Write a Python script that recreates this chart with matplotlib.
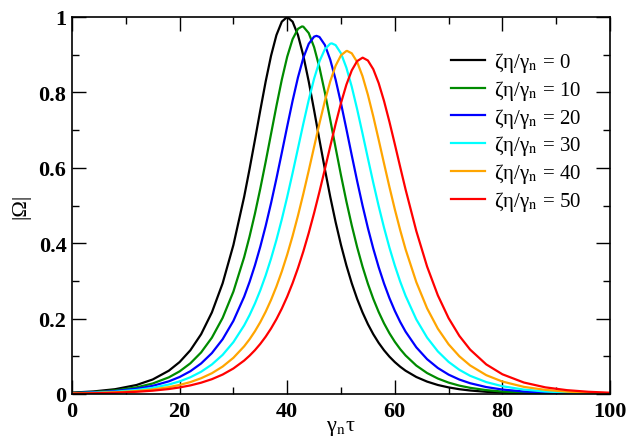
import numpy as np
import matplotlib
matplotlib.use("Agg")
import matplotlib.pyplot as plt
from matplotlib.ticker import MultipleLocator, FuncFormatter

plt.rcParams["font.family"] = ["Liberation Serif", "DejaVu Serif"]
plt.rcParams["mathtext.fontset"] = "stix"

# ── Data (gamma_n * tau vs |Omega|) ───────────────────────────────────────
X_GRID = [0, 4, 8, 12, 15, 18, 20, 22, 24, 26, 28, 30,
          32, 33, 34, 35, 36, 37, 38, 39, 40, 41, 42, 43, 44, 45, 46, 47,
          48, 49, 50, 51, 52, 53, 54, 55, 56, 57, 58, 59, 60, 61, 62,
          64, 66, 68, 70, 72, 74, 77, 80, 84, 88, 92, 96, 100]

OMEGA_0 = [0.0036, 0.0068, 0.0127, 0.0239, 0.0385, 0.0618, 0.0847, 0.1160, 0.1586, 0.2164, 0.2937, 0.3952,
           0.5232, 0.5965, 0.6737, 0.7527, 0.8290, 0.8973, 0.9521, 0.9877, 1.0000, 0.9877, 0.9521, 0.8973,
           0.8290, 0.7527, 0.6737, 0.5965, 0.5232, 0.4559, 0.3952, 0.3412, 0.2937, 0.2523, 0.2164, 0.1853,
           0.1586, 0.1357, 0.1160, 0.0991, 0.0847, 0.0724, 0.0618,
           0.0451, 0.0329, 0.0239, 0.0175, 0.0127, 0.0093, 0.0058, 0.0036, 0.0019, 0.0010, 0.0005, 0.0003, 0.0002]
OMEGA_10 = [0.0028, 0.0052, 0.0096, 0.0176, 0.0279, 0.0442, 0.0600, 0.0814, 0.1103, 0.1494, 0.2019, 0.2717,
            0.3629, 0.4176, 0.4783, 0.5449, 0.6161, 0.6902, 0.7641, 0.8339, 0.8946, 0.9411, 0.9686, 0.9743,
            0.9574, 0.9200, 0.8658, 0.7998, 0.7274, 0.6530, 0.5800, 0.5109, 0.4472, 0.3895, 0.3379, 0.2924,
            0.2524, 0.2176, 0.1873, 0.1612, 0.1386, 0.1191, 0.1023,
            0.0754, 0.0556, 0.0410, 0.0302, 0.0222, 0.0164, 0.0103, 0.0065, 0.0035, 0.0019, 0.0010, 0.0006, 0.0003]
OMEGA_20 = [0.0024, 0.0043, 0.0077, 0.0139, 0.0216, 0.0336, 0.0451, 0.0604, 0.0810, 0.1085, 0.1453, 0.1940,
            0.2581, 0.2971, 0.3412, 0.3908, 0.4459, 0.5064, 0.5716, 0.6401, 0.7098, 0.7776, 0.8397, 0.8916,
            0.9288, 0.9479, 0.9469, 0.9259, 0.8869, 0.8339, 0.7710, 0.7028, 0.6331, 0.5649, 0.5001, 0.4402,
            0.3856, 0.3366, 0.2930, 0.2545, 0.2207, 0.1912, 0.1655,
            0.1238, 0.0924, 0.0690, 0.0514, 0.0383, 0.0286, 0.0184, 0.0118, 0.0066, 0.0036, 0.0020, 0.0011, 0.0006]
OMEGA_30 = [0.0020, 0.0034, 0.0061, 0.0107, 0.0164, 0.0252, 0.0334, 0.0444, 0.0590, 0.0783, 0.1038, 0.1376,
            0.1820, 0.2091, 0.2400, 0.2751, 0.3147, 0.3593, 0.4089, 0.4635, 0.5228, 0.5860, 0.6515, 0.7171,
            0.7800, 0.8365, 0.8825, 0.9144, 0.9292, 0.9254, 0.9035, 0.8656, 0.8149, 0.7554, 0.6910, 0.6251,
            0.5603, 0.4986, 0.4411, 0.3884, 0.3409, 0.2983, 0.2605,
            0.1978, 0.1497, 0.1130, 0.0852, 0.0642, 0.0483, 0.0316, 0.0206, 0.0117, 0.0066, 0.0038, 0.0021, 0.0012]
OMEGA_40 = [0.0015, 0.0026, 0.0045, 0.0079, 0.0120, 0.0182, 0.0240, 0.0316, 0.0418, 0.0551, 0.0728, 0.0960,
            0.1265, 0.1451, 0.1664, 0.1907, 0.2183, 0.2497, 0.2852, 0.3251, 0.3697, 0.4190, 0.4730, 0.5311,
            0.5925, 0.6555, 0.7180, 0.7771, 0.8292, 0.8708, 0.8985, 0.9098, 0.9037, 0.8807, 0.8430, 0.7936,
            0.7363, 0.6745, 0.6113, 0.5493, 0.4900, 0.4348, 0.3840,
            0.2967, 0.2273, 0.1733, 0.1318, 0.1000, 0.0758, 0.0500, 0.0330, 0.0189, 0.0109, 0.0062, 0.0036, 0.0020]
OMEGA_50 = [0.0011, 0.0020, 0.0034, 0.0059, 0.0088, 0.0132, 0.0174, 0.0228, 0.0300, 0.0393, 0.0516, 0.0677,
            0.0887, 0.1016, 0.1162, 0.1330, 0.1521, 0.1739, 0.1986, 0.2266, 0.2583, 0.2940, 0.3339, 0.3782,
            0.4270, 0.4801, 0.5368, 0.5963, 0.6569, 0.7163, 0.7719, 0.8204, 0.8584, 0.8830, 0.8920, 0.8846,
            0.8615, 0.8247, 0.7771, 0.7221, 0.6629, 0.6023, 0.5427,
            0.4322, 0.3381, 0.2617, 0.2012, 0.1541, 0.1178, 0.0785, 0.0523, 0.0304, 0.0176, 0.0102, 0.0059, 0.0034]

# maxima of each curve
PEAK_X = [40.0, 42.75, 45.45, 48.3, 51.15, 54.05]
PEAK_Y = [1.0, 0.975, 0.95, 0.93, 0.91, 0.892]

RATIOS = [0, 10, 20, 30, 40, 50]
COLORS = ["black", "#008b00", "#0000ff", "#00ffff", "#ffa500", "#ff0000"]
SERIES = [OMEGA_0, OMEGA_10, OMEGA_20, OMEGA_30, OMEGA_40, OMEGA_50]

# ── Figure ────────────────────────────────────────────────────────────────
fig = plt.figure(figsize=(6.39, 4.39), dpi=100)
ax = fig.add_axes([72 / 639, 44 / 439, 538 / 639, 377 / 439])

xg = np.array(X_GRID, dtype=float)
for ratio, vals, px, py, col in zip(RATIOS, SERIES, PEAK_X, PEAK_Y, COLORS):
    i = np.searchsorted(xg, px)
    xs = np.insert(xg, i, px)
    ys = np.insert(np.array(vals), i, py)
    ax.plot(xs, ys, color=col, lw=1.6, solid_joinstyle="round",
            label=r"ζη/γ$_{\rm n}$ = %d" % ratio)

ax.set_xlim(0, 100)
ax.set_ylim(0, 1)
ax.xaxis.set_major_locator(MultipleLocator(20))
ax.xaxis.set_minor_locator(MultipleLocator(10))
ax.yaxis.set_major_locator(MultipleLocator(0.2))
ax.yaxis.set_minor_locator(MultipleLocator(0.1))
ax.yaxis.set_major_formatter(FuncFormatter(lambda v, p: "%g" % round(v, 2)))
ax.tick_params(which="both", direction="in", top=True, right=True, width=1.0)
ax.tick_params(which="major", length=10, labelsize=16)
ax.tick_params(axis="x", which="major", pad=5)
ax.tick_params(axis="y", which="major", pad=4)
ax.tick_params(which="minor", length=5)
for lab in ax.get_xticklabels() + ax.get_yticklabels():
    lab.set_fontweight("bold")
for sp in ax.spines.values():
    sp.set_linewidth(1.2)

ax.set_xlabel(r"γ$_{\rm n}$τ", fontsize=16, labelpad=-2)
ax.set_ylabel("|Ω|", fontsize=16, labelpad=6)

ax.legend(loc="upper left", bbox_to_anchor=(0.67, 0.962), frameon=False,
          fontsize=15, handlelength=1.6, labelspacing=0.18, handletextpad=0.45)

fig.savefig("out.png", dpi=100)
